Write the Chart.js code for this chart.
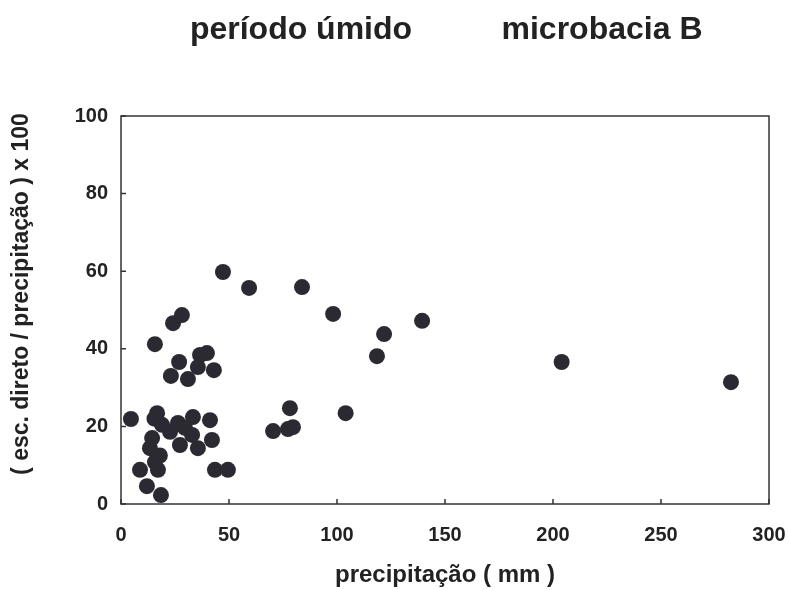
<!DOCTYPE html>
<html>
<head>
<meta charset="utf-8">
<script src="https://cdn.jsdelivr.net/npm/chart.js@4/dist/chart.umd.min.js"></script>
<style>
  html, body { margin: 0; padding: 0; background: #fff; }
  #wrap { width: 789px; height: 590px; }
</style>
</head>
<body>
<div id="wrap"><canvas id="chuva"></canvas></div>
<script>
// precipitação (mm) x escoamento direto / precipitação x 100
const precip = [47.2, 59.3, 83.8, 98.2, 28.2, 24.1, 15.7, 26.9, 36.6, 39.8,
  35.6, 43.0, 23.1, 31.0, 139.4, 121.8, 118.5, 204, 282.4, 104,
  78.2, 79.6, 77.3, 70.4, 4.6, 16.7, 19.0, 14.4, 33.3, 41.2,
  26.4, 29.6, 22.7, 32.9, 42.1, 35.6, 27.3, 13.4, 15.7, 8.8,
  17.1, 43.5, 49.5, 12.0, 18.5, 15.5, 18.0];
const razao = [59.8, 55.7, 55.9, 49.0, 48.7, 46.6, 41.2, 36.6, 38.4, 38.9,
  35.3, 34.5, 33.0, 32.2, 47.2, 43.8, 38.1, 36.6, 31.4, 23.4,
  24.7, 19.8, 19.3, 18.8, 21.9, 23.4, 20.4, 17.0, 22.4, 21.6,
  20.9, 19.6, 18.6, 17.8, 16.5, 14.4, 15.2, 14.4, 10.8, 8.8,
  8.8, 8.8, 8.8, 4.6, 2.3, 22.0, 12.5];
const xTicks = [0, 50, 100, 150, 200, 250, 300];
const yTicks = [0, 20, 40, 60, 80, 100];

const ink = "#222";
const fonte = "'Liberation Sans', Arial, sans-serif";

// moldura + ticks para dentro + títulos do topo
const moldura = {
  id: "moldura",
  afterDraw(chart) {
    const { ctx, chartArea: a, scales } = chart;
    ctx.save();
    ctx.strokeStyle = "#333";
    ctx.lineWidth = 1.5;
    ctx.strokeRect(a.left, a.top, a.right - a.left, a.bottom - a.top);
    ctx.beginPath();
    xTicks.forEach(v => {
      const px = scales.x.getPixelForValue(v);
      ctx.moveTo(px, a.bottom);
      ctx.lineTo(px, a.bottom - 5);
    });
    yTicks.forEach(v => {
      const py = scales.y.getPixelForValue(v);
      ctx.moveTo(a.left, py);
      ctx.lineTo(a.left + 5, py);
    });
    ctx.stroke();

    ctx.fillStyle = ink;
    ctx.font = "bold 32px " + fonte;
    ctx.textBaseline = "alphabetic";
    ctx.textAlign = "center";
    ctx.fillText("período úmido", 301, 39);
    ctx.fillText("microbacia B", 602, 39);
    ctx.restore();
  }
};

new Chart(document.getElementById("chuva"), {
  type: "scatter",
  data: {
    datasets: [{
      data: precip.map((p, i) => ({ x: p, y: razao[i] })),
      backgroundColor: "#2b2a32",
      borderWidth: 0,
      pointRadius: 8,
      pointHoverRadius: 8
    }]
  },
  options: {
    responsive: true,
    maintainAspectRatio: false,
    animation: false,
    layout: { padding: { top: 116, right: 20, left: 0, bottom: 0 } },
    plugins: {
      legend: { display: false },
      tooltip: { enabled: false }
    },
    scales: {
      x: {
        type: "linear",
        min: 0,
        max: 300,
        afterBuildTicks: s => { s.ticks = xTicks.map(v => ({ value: v })); },
        afterFit: s => { s.height = 86; },
        grid: { display: false, drawTicks: true, tickLength: 17 },
        border: { display: false },
        ticks: {
          padding: 2,
          color: ink,
          font: { family: fonte, size: 20, weight: "bold" }
        },
        title: {
          display: true,
          text: "precipitação ( mm )",
          color: ink,
          padding: { top: 0, bottom: 0 },
          font: { family: fonte, size: 24, weight: "bold" }
        }
      },
      y: {
        type: "linear",
        min: 0,
        max: 100,
        afterBuildTicks: s => { s.ticks = yTicks.map(v => ({ value: v })); },
        afterFit: s => { s.width = 121; },
        grid: { display: false, drawTicks: false },
        border: { display: false },
        ticks: {
          padding: 13,
          color: ink,
          font: { family: fonte, size: 20, weight: "bold" }
        },
        title: {
          display: true,
          text: "     ( esc. direto / precipitação ) x 100",
          color: ink,
          padding: { top: 8, bottom: 0 },
          font: { family: fonte, size: 23, weight: "bold" }
        }
      }
    }
  },
  plugins: [moldura]
});
</script>
</body>
</html>
